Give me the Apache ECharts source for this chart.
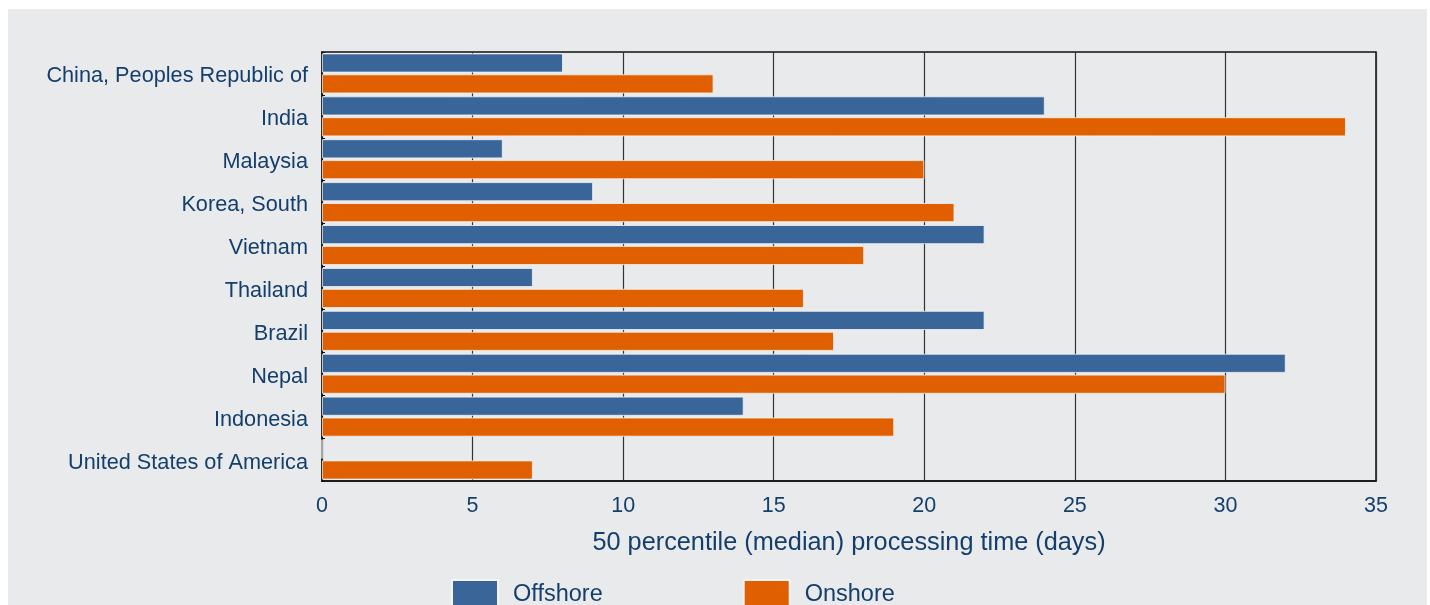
<!DOCTYPE html>
<html>
<head>
<meta charset="utf-8">
<script src="https://cdn.jsdelivr.net/npm/echarts@6/dist/echarts.min.js"></script>
<style>
html,body{margin:0;padding:0;background:#ffffff;}
#chart{width:1430px;height:605px;}
</style>
</head>
<body>
<div id="chart"></div>
<script>
const categories = ["China, Peoples Republic of","India","Malaysia","Korea, South","Vietnam","Thailand","Brazil","Nepal","Indonesia","United States of America"];
const offshore = [8,24,6,9,22,7,22,32,14,0];
const onshore = [13,34,20,21,18,16,17,30,19,7];
const xTicks = {min:0, max:35, interval:5};
const xTitle = "50 percentile (median) processing time (days)";
const seriesNames = ["Offshore","Onshore"];

const textColor = '#143f6c';
const chart = echarts.init(document.getElementById('chart'));
chart.setOption({
  backgroundColor: 'transparent',
  animation: false,
  graphic: [{
    type: 'rect', z: -10, silent: true,
    shape: {x: 8, y: 9, width: 1419, height: 596},
    style: {fill: '#e9eaec'}
  }],
  grid: {left: 322, right: 54, top: 52, bottom: 124, containLabel: false,
         show: true, borderColor: '#111', borderWidth: 1.5, backgroundColor: 'transparent'},
  legend: {
    data: seriesNames,
    left: 446, top: 574,
    itemWidth: 46, itemHeight: 30, itemGap: 140,
    icon: 'rect',
    textStyle: {color: textColor, fontSize: 23.5, fontFamily: 'Liberation Sans', padding: [0,0,0,10]}
  },
  xAxis: {
    type: 'value', min: xTicks.min, max: xTicks.max, interval: xTicks.interval,
    name: xTitle, nameLocation: 'middle', nameGap: 50,
    nameTextStyle: {color: textColor, fontSize: 25.3, fontFamily: 'Liberation Sans'},
    axisLine: {show: true, lineStyle: {color: '#111', width: 1.5}},
    axisTick: {show: false},
    axisLabel: {color: textColor, fontSize: 21.5, fontFamily: 'Liberation Sans', margin: 14},
    splitLine: {show: true, lineStyle: {color: '#333', width: 1.2}}
  },
  yAxis: {
    type: 'category', data: categories, inverse: true,
    axisLine: {show: true, lineStyle: {color: '#111', width: 1.5}},
    axisTick: {show: true, inside: true, length: 3, lineStyle: {color: '#111'}},
    axisLabel: {margin: 14, formatter: '{a|{value}}',
      rich: {a: {color: textColor, fontSize: 21.7, fontFamily: 'Liberation Sans', padding: [6,0,0,0]}}}
  },
  series: [
    {name: seriesNames[0], type: 'bar', data: offshore, barCategoryGap: '7%', barGap: '10%',
     itemStyle: {color: '#3a6598', borderColor: '#f4f4f4', borderWidth: 0.8}},
    {name: seriesNames[1], type: 'bar', data: onshore, barCategoryGap: '7%', barGap: '10%',
     itemStyle: {color: '#e05f00', borderColor: '#f4f4f4', borderWidth: 0.8}}
  ]
});
</script>
</body>
</html>
